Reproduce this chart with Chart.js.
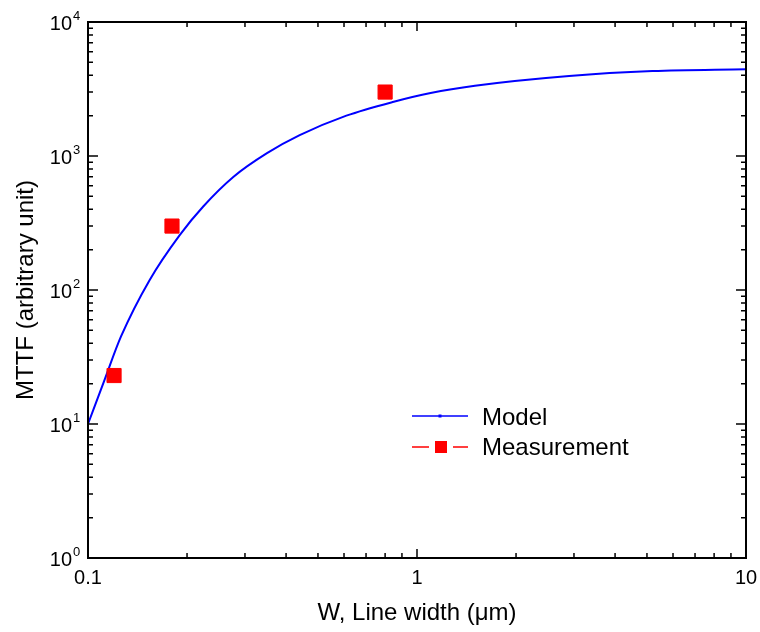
<!DOCTYPE html>
<html>
<head>
<meta charset="utf-8">
<script src="https://cdn.jsdelivr.net/npm/chart.js@4"></script>
<style>
  html, body { margin: 0; padding: 0; background: #fff; }
  #wrap { width: 760px; height: 632px; }
</style>
</head>
<body>
<div id="wrap"><canvas id="mttfChart" width="760" height="632"></canvas></div>
<script>
// Model curve: MTTF vs line width
const modelWidth = [0.1, 0.112, 0.126, 0.154, 0.19, 0.224, 0.277, 0.35, 0.44, 0.61, 0.85, 1.1, 1.5, 2.9, 5.2, 10];
const modelMttf  = [10, 21, 45, 119, 257, 420, 700, 1050, 1430, 2000, 2540, 2950, 3340, 3950, 4300, 4440];

// Measured points
const measWidth = [0.12, 0.18, 0.8];
const measMttf  = [23, 300, 3000];

// Axis labels
const xTickValues = [0.1, 1, 10];
const xTickLabels = ['0.1', '1', '10'];
const yTickValues = [1, 10, 100, 1000, 10000];
const yTickExps   = ['0', '1', '2', '3', '4'];

const FONT = '"Liberation Sans", Arial, sans-serif';

// Frame, inward ticks on all sides, labels and legend
const framePlugin = {
    id: 'frame',
    afterDraw(chart) {
        const ctx = chart.ctx;
        const { left, right, top, bottom } = chart.chartArea;
        const xs = chart.scales.x, ys = chart.scales.y;
        ctx.save();
        ctx.strokeStyle = '#000';
        ctx.fillStyle = '#000';

        // ticks
        ctx.lineWidth = 1.5;
        ctx.beginPath();
        for (let d = 0.1; d < 10; d *= 10) {
            for (let k = 1; k <= 9; k++) {
                const px = xs.getPixelForValue(d * k);
                const len = k === 1 ? 9 : 5;
                ctx.moveTo(px, bottom); ctx.lineTo(px, bottom - len);
                ctx.moveTo(px, top); ctx.lineTo(px, top + len);
            }
        }
        for (let d = 1; d < 10000; d *= 10) {
            for (let k = 1; k <= 9; k++) {
                const py = ys.getPixelForValue(d * k);
                const len = k === 1 ? 10 : 5;
                ctx.moveTo(left, py); ctx.lineTo(left + len, py);
                ctx.moveTo(right, py); ctx.lineTo(right - len, py);
            }
        }
        ctx.stroke();

        // frame
        ctx.lineWidth = 2;
        ctx.strokeRect(left, top, right - left, bottom - top);

        // x tick labels
        ctx.font = '20px ' + FONT;
        ctx.textAlign = 'center';
        ctx.textBaseline = 'alphabetic';
        xTickValues.forEach((v, i) => {
            ctx.fillText(xTickLabels[i], xs.getPixelForValue(v), 584);
        });

        // y tick labels as 10 with superscript exponent
        yTickValues.forEach((v, i) => {
            const py = ys.getPixelForValue(v);
            ctx.font = '20px ' + FONT;
            ctx.textAlign = 'right';
            ctx.fillText('10', 72, py + 8);
            ctx.font = '13px ' + FONT;
            ctx.textAlign = 'left';
            ctx.fillText(yTickExps[i], 73, py - 2);
        });

        // axis titles
        ctx.font = '24px ' + FONT;
        ctx.textAlign = 'center';
        ctx.fillText('W, Line width (\u03bcm)', (left + right) / 2, 620);
        ctx.save();
        ctx.translate(33, (top + bottom) / 2);
        ctx.rotate(-Math.PI / 2);
        ctx.fillText('MTTF (arbitrary unit)', 0, 0);
        ctx.restore();

        // legend
        ctx.lineWidth = 1.5;
        ctx.strokeStyle = '#0000ff';
        ctx.beginPath();
        ctx.moveTo(412, 416); ctx.lineTo(468, 416);
        ctx.stroke();
        ctx.fillStyle = '#0000ff';
        ctx.fillRect(438.5, 414.5, 3, 3);

        ctx.strokeStyle = '#ff0000';
        ctx.beginPath();
        ctx.moveTo(412, 447); ctx.lineTo(429, 447);
        ctx.moveTo(453, 447); ctx.lineTo(468, 447);
        ctx.stroke();
        ctx.fillStyle = '#ff0000';
        ctx.fillRect(435, 441, 12, 12);

        ctx.fillStyle = '#000';
        ctx.font = '24px ' + FONT;
        ctx.textAlign = 'left';
        ctx.fillText('Model', 482, 425);
        ctx.fillText('Measurement', 482, 455);
        ctx.restore();
    }
};

document.addEventListener('DOMContentLoaded', function() {
    const ctx = document.getElementById('mttfChart').getContext('2d');
    new Chart(ctx, {
        type: 'scatter',
        data: {
            datasets: [{
                label: 'Model',
                data: modelWidth.map((w, i) => ({ x: w, y: modelMttf[i] })),
                showLine: true,
                borderColor: '#0000ff',
                borderWidth: 2,
                pointRadius: 0,
                cubicInterpolationMode: 'monotone',
                order: 2
            }, {
                label: 'Measurement',
                data: measWidth.map((w, i) => ({ x: w, y: measMttf[i] })),
                showLine: false,
                pointStyle: 'rect',
                pointRadius: 10,
                backgroundColor: '#ff0000',
                borderColor: '#ff0000',
                borderWidth: 1,
                order: 1
            }]
        },
        options: {
            responsive: false,
            animation: false,
            devicePixelRatio: 1,
            layout: { padding: { left: 88, right: 14, top: 22, bottom: 74 } },
            scales: {
                x: { type: 'logarithmic', min: 0.1, max: 10, display: false },
                y: { type: 'logarithmic', min: 1, max: 10000, display: false }
            },
            plugins: {
                legend: { display: false },
                tooltip: { enabled: false }
            }
        },
        plugins: [framePlugin]
    });
});
</script>
</body>
</html>
